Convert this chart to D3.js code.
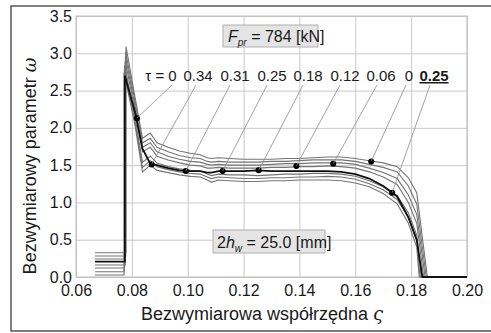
<!DOCTYPE html>
<html>
<head>
<meta charset="utf-8">
<script src="https://cdn.jsdelivr.net/npm/d3@7"></script>
<style>
  body { margin: 0; background: #fff; }
  text { font-family: "Liberation Sans", Arial, sans-serif; fill: #1a1a1a; }
</style>
</head>
<body>
<script>
var g_width = 491
var g_height = 333
var margin = { left: 76, right: 24, top: 16, bottom: 56 }

// tick values
var xTicks = [0.06, 0.08, 0.10, 0.12, 0.14, 0.16, 0.18, 0.20]
var yTicks = [0.0, 0.5, 1.0, 1.5, 2.0, 2.5, 3.0, 3.5]

// shared sample positions of the curves (after the spike)
var sampleX = [0.0812, 0.0838, 0.0866, 0.0890, 0.0930, 0.0970, 0.1010, 0.1045, 0.1070, 0.1085, 0.1110,
               0.1150, 0.1200, 0.1250, 0.1300, 0.1350, 0.1400, 0.1450, 0.1500, 0.1550, 0.1600,
               0.1650, 0.1700, 0.1750, 0.1790, 0.1820]

// one row per curve, bottom to top
var curve0 = [2.02, 1.41, 1.50, 1.43, 1.40, 1.37, 1.35, 1.34, 1.30, 1.27, 1.30, 1.29, 1.28, 1.28, 1.29, 1.29, 1.30, 1.30, 1.30, 1.29, 1.26, 1.21, 1.12, 0.98, 0.72, 0.40]
var curve1 = [2.07, 1.47, 1.56, 1.48, 1.44, 1.41, 1.39, 1.38, 1.34, 1.32, 1.34, 1.33, 1.32, 1.32, 1.33, 1.33, 1.34, 1.34, 1.35, 1.34, 1.31, 1.25, 1.17, 1.04, 0.80, 0.48]
var curve2 = [2.12, 1.54, 1.62, 1.53, 1.48, 1.45, 1.43, 1.42, 1.38, 1.36, 1.38, 1.37, 1.37, 1.36, 1.37, 1.38, 1.38, 1.39, 1.39, 1.38, 1.35, 1.29, 1.21, 1.09, 0.86, 0.56]
var curve3 = [2.20, 1.72, 1.52, 1.50, 1.46, 1.43, 1.42, 1.42, 1.40, 1.40, 1.42, 1.42, 1.42, 1.43, 1.42, 1.42, 1.42, 1.42, 1.42, 1.41, 1.38, 1.32, 1.22, 1.08, 0.80, 0.50]
var curve4 = [2.22, 1.68, 1.74, 1.62, 1.57, 1.53, 1.50, 1.49, 1.46, 1.46, 1.47, 1.46, 1.46, 1.46, 1.47, 1.47, 1.48, 1.48, 1.49, 1.48, 1.46, 1.41, 1.34, 1.24, 1.00, 0.72]
var curve5 = [2.28, 1.74, 1.80, 1.68, 1.62, 1.58, 1.55, 1.54, 1.51, 1.50, 1.51, 1.50, 1.50, 1.50, 1.51, 1.52, 1.52, 1.53, 1.53, 1.53, 1.51, 1.46, 1.40, 1.32, 1.10, 0.84]
var curve6 = [2.34, 1.80, 1.86, 1.74, 1.68, 1.63, 1.60, 1.59, 1.55, 1.54, 1.55, 1.54, 1.54, 1.54, 1.55, 1.55, 1.56, 1.57, 1.57, 1.57, 1.55, 1.51, 1.47, 1.41, 1.22, 0.98]
var curve7 = [2.40, 1.86, 1.93, 1.80, 1.74, 1.69, 1.66, 1.64, 1.60, 1.59, 1.60, 1.59, 1.58, 1.58, 1.58, 1.59, 1.59, 1.60, 1.61, 1.61, 1.59, 1.56, 1.53, 1.48, 1.33, 1.13]
var curveRows = [curve0, curve1, curve2, curve3, curve4, curve5, curve6, curve7]

// start level, jump position, peak, end of each curve
var startX = 0.0668
var startLevel = [0.027, 0.071, 0.121, 0.205, 0.161, 0.241, 0.282, 0.326]
var jumpX = [0.0772, 0.0773, 0.0774, 0.0775, 0.0776, 0.0777, 0.0778, 0.0779]
var peakLevel = [2.74, 2.78, 2.84, 2.70, 2.90, 2.96, 3.02, 3.09]
var zeroX = [0.1829, 0.1832, 0.1836, 0.1840, 0.1845, 0.1850, 0.1854, 0.1858]
var endX = 0.20
var boldCurve = 3

// labels and their marked points
var tauLabels = ["τ = 0", "0.34", "0.31", "0.25", "0.18", "0.12", "0.06", "0", "0.25"]
var dotX = [0.0818, 0.0871, 0.0993, 0.1125, 0.1254, 0.1389, 0.1521, 0.1657, 0.1732]
var dotY = [2.13, 1.51, 1.42, 1.42, 1.43, 1.49, 1.52, 1.55, 1.13]

// label layout (pixel)
var labelCx = [161, 198, 235, 272, 308, 345, 381, 409, 434]
var leaderX = [172, 196, 230, 267, 303, 340, 377, 406, 430]

var w = g_width - margin.left - margin.right
var h = g_height - margin.top - margin.bottom

var svg = d3.select("body").append("svg")
    .attr("width", g_width)
    .attr("height", g_height)

// outer frame
svg.append("rect")
    .attr("x", 11).attr("y", 6)
    .attr("width", 500).attr("height", 325)
    .attr("fill", "none")
    .attr("stroke", "#555")
    .attr("stroke-width", 1.5)

var xScale = d3.scaleLinear().domain([0.06, 0.20]).range([0, w])
var yScale = d3.scaleLinear().domain([0, 3.5]).range([h, 0])

var g = svg.append("g").attr("transform", "translate(" + margin.left + "," + margin.top + ")")

var xAxis = g.append("g")
    .attr("transform", "translate(0," + h + ")")
    .call(d3.axisBottom(xScale).tickValues(xTicks).tickFormat(d3.format(".2f")).tickSize(-h).tickPadding(8))
var yAxis = g.append("g")
    .call(d3.axisLeft(yScale).tickValues(yTicks).tickFormat(d3.format(".1f")).tickSize(-w).tickPadding(4))

xAxis.select(".domain").remove()
yAxis.select(".domain").remove()
g.selectAll(".tick line").attr("stroke", "#c9c9c9").attr("stroke-width", 1)
g.selectAll(".tick text")
    .attr("font-size", 16)
    .attr("font-family", "Liberation Sans, Arial, sans-serif")
    .attr("fill", "#1a1a1a")

// plot frame
g.append("rect")
    .attr("width", w).attr("height", h)
    .attr("fill", "none")
    .attr("stroke", "#bdbdbd")

// annotation boxes
function noteBox(x0, y0, bw, bh) {
    svg.append("rect")
        .attr("x", x0).attr("y", y0)
        .attr("width", bw).attr("height", bh)
        .attr("fill", "#e4e4e4")
        .attr("stroke", "#b0b0b0")
}
noteBox(223, 25, 95, 22)
noteBox(213, 230, 112, 23)

var t1 = svg.append("text").attr("x", 228).attr("y", 42).attr("font-size", 16)
t1.append("tspan").attr("font-style", "italic").text("F")
t1.append("tspan").attr("font-style", "italic").attr("font-size", 10).attr("dy", 4).text("pr")
t1.append("tspan").attr("dy", -4).text(" = 784 [kN]")

var t2 = svg.append("text").attr("x", 217).attr("y", 248).attr("font-size", 16)
t2.append("tspan").text("2")
t2.append("tspan").attr("font-style", "italic").text("h")
t2.append("tspan").attr("font-style", "italic").attr("font-size", 10).attr("dy", 4).text("w")
t2.append("tspan").attr("dy", -4).text(" = 25.0 [mm]")

// curves
var line = d3.line().x(function(d) { return xScale(d[0]) }).y(function(d) { return yScale(d[1]) })

function curvePoints(i) {
    var pts = [[startX, startLevel[i]], [jumpX[i], startLevel[i]], [jumpX[i], peakLevel[i]]]
    for (var j = 0; j < sampleX.length; j++) {
        pts.push([sampleX[j], curveRows[i][j]])
    }
    pts.push([zeroX[i], 0])
    pts.push([endX, 0])
    return pts
}

for (var i = 0; i < curveRows.length; i++) {
    if (i == boldCurve) continue
    g.append("path")
        .attr("d", line(curvePoints(i)))
        .attr("fill", "none")
        .attr("stroke", "#747474")
        .attr("stroke-width", 1.1)
}
g.append("path")
    .attr("d", line(curvePoints(boldCurve)))
    .attr("fill", "none")
    .attr("stroke", "#111")
    .attr("stroke-width", 1.8)

// leader lines, dots, labels
for (var k = 0; k < tauLabels.length; k++) {
    svg.append("line")
        .attr("x1", leaderX[k]).attr("y1", 85)
        .attr("x2", margin.left + xScale(dotX[k]))
        .attr("y2", margin.top + yScale(dotY[k]))
        .attr("stroke", "#8a8a8a")
        .attr("stroke-width", 0.8)
}
g.selectAll("circle.dot")
    .data(dotX)
    .enter().append("circle")
    .attr("class", "dot")
    .attr("cx", function(d) { return xScale(d) })
    .attr("cy", function(d, i) { return yScale(dotY[i]) })
    .attr("r", 3)
    .attr("fill", "#000")

svg.selectAll("text.tau")
    .data(tauLabels)
    .enter().append("text")
    .attr("class", "tau")
    .attr("x", function(d, i) { return labelCx[i] })
    .attr("y", 81)
    .attr("text-anchor", "middle")
    .attr("font-size", 15)
    .attr("font-weight", function(d, i) { return i == tauLabels.length - 1 ? "bold" : "normal" })
    .attr("text-decoration", function(d, i) { return i == tauLabels.length - 1 ? "underline" : "none" })
    .text(function(d) { return d })

// axis titles
var xt = svg.append("text")
    .attr("x", 262).attr("y", 320)
    .attr("text-anchor", "middle")
    .attr("font-size", 18)
xt.append("tspan").text("Bezwymiarowa współrzędna ")
xt.append("tspan").attr("font-family", "DejaVu Serif, serif").attr("font-style", "italic").text("ς")

var yt = svg.append("text")
    .attr("transform", "translate(36,166) rotate(-90)")
    .attr("text-anchor", "middle")
    .attr("font-size", 18)
yt.append("tspan").text("Bezwymiarowy parametr ")
yt.append("tspan").attr("font-family", "DejaVu Serif, serif").attr("font-style", "italic").text("ω")
</script>
</body>
</html>
